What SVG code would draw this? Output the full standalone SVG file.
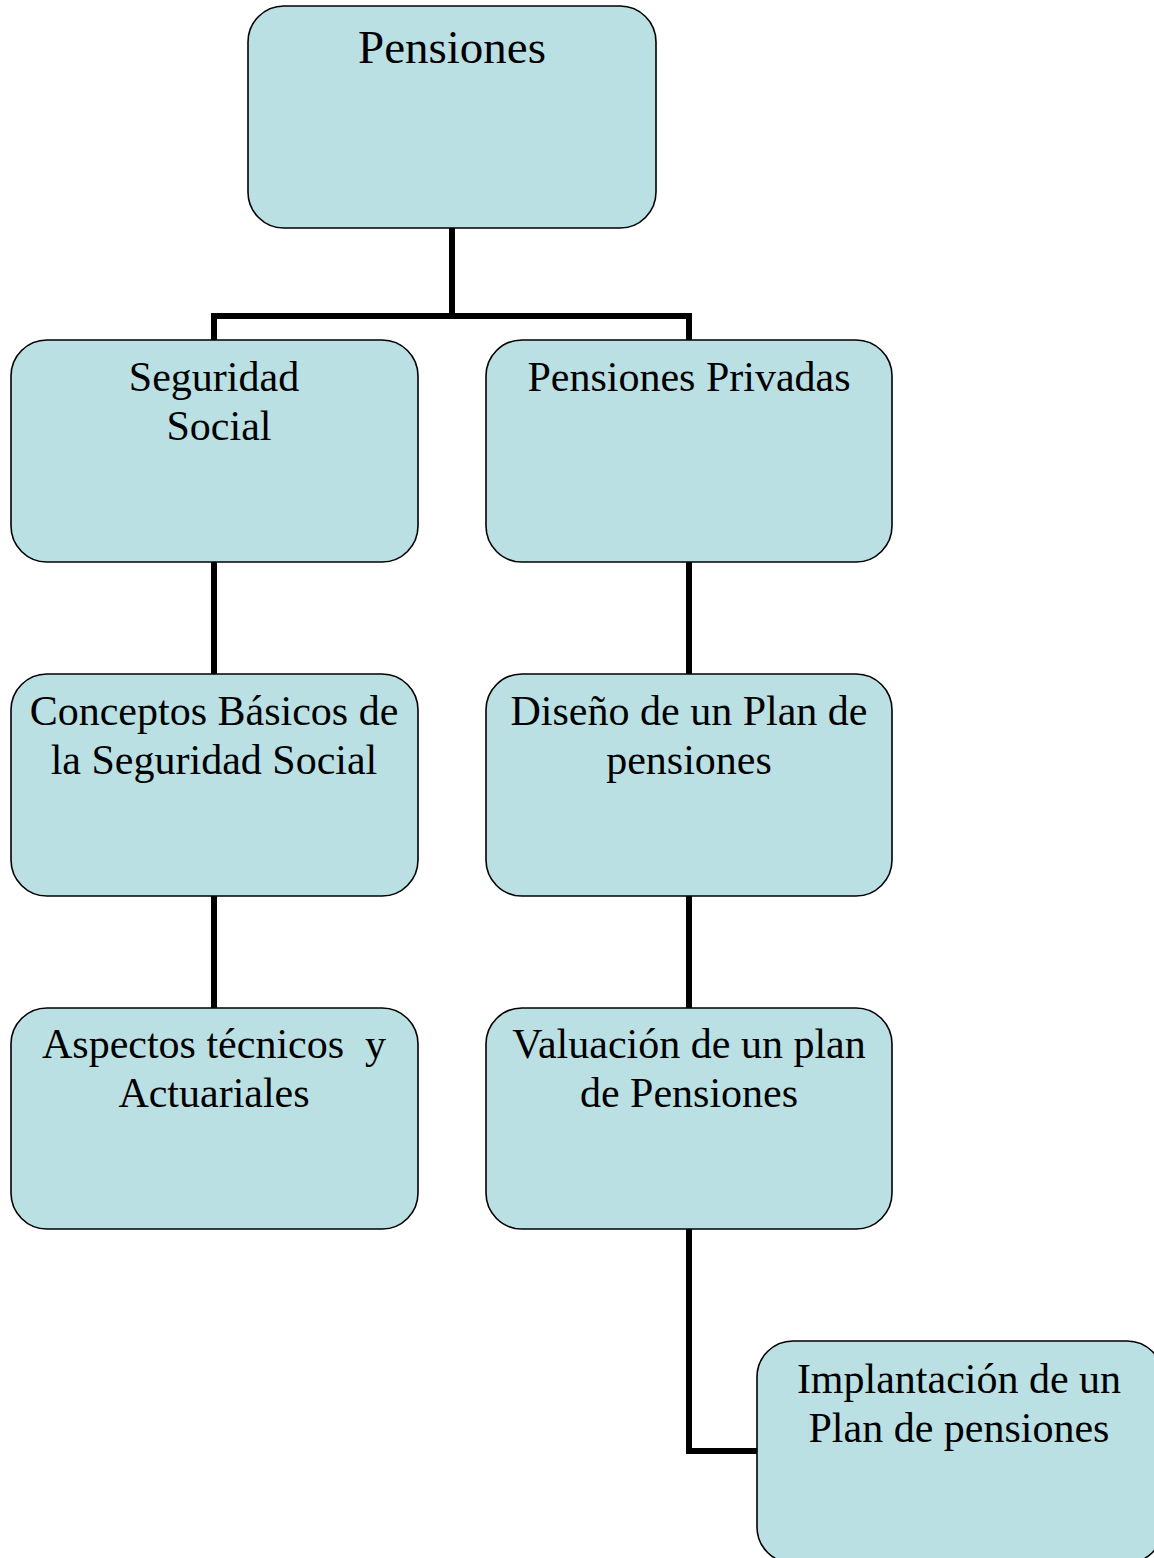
<svg xmlns="http://www.w3.org/2000/svg" width="1154" height="1558" viewBox="0 0 1154 1558">
<style>
.box{fill:#BAE0E3;stroke:#000;stroke-width:1.6}
.t{font-family:"Liberation Serif","Times New Roman",serif;font-size:42px;fill:#000;text-anchor:middle;white-space:pre}
.big{font-size:47px}
.c{fill:none;stroke:#000;stroke-width:6;stroke-linecap:square;stroke-linejoin:miter}
</style>
<rect width="1154" height="1558" fill="#fff"/>
<g id="connectors">
<path class="c" d="M452 229 V316 M214 338 V316 H689 V338"/>
<path class="c" d="M214 563 V672"/>
<path class="c" d="M689 563 V672"/>
<path class="c" d="M214 897 V1006"/>
<path class="c" d="M689 897 V1006"/>
<path class="c" d="M689 1230 V1451 H755"/>
</g>
<g id="pensiones">
<rect class="box" x="248" y="6" width="408" height="222" rx="36"/>
<text class="t big" x="452" y="63">Pensiones</text>
</g>
<g id="seguridad-social">
<rect class="box" x="11" y="340" width="407" height="222" rx="36"/>
<text class="t" x="214" y="391">Seguridad</text>
<text class="t" x="219" y="440">Social</text>
</g>
<g id="pensiones-privadas">
<rect class="box" x="486" y="340" width="406" height="222" rx="36"/>
<text class="t" x="689" y="391">Pensiones Privadas</text>
</g>
<g id="conceptos-basicos">
<rect class="box" x="11" y="674" width="407" height="222" rx="36"/>
<text class="t" x="214" y="725">Conceptos Básicos de</text>
<text class="t" x="214" y="774">la Seguridad Social</text>
</g>
<g id="diseno-plan">
<rect class="box" x="486" y="674" width="406" height="222" rx="36"/>
<text class="t" x="689" y="725">Diseño de un Plan de</text>
<text class="t" x="689" y="774">pensiones</text>
</g>
<g id="aspectos-tecnicos">
<rect class="box" x="11" y="1008" width="407" height="221" rx="36"/>
<text class="t" x="214" y="1058">Aspectos técnicos  y</text>
<text class="t" x="214" y="1107">Actuariales</text>
</g>
<g id="valuacion-plan">
<rect class="box" x="486" y="1008" width="406" height="221" rx="36"/>
<text class="t" x="689" y="1058">Valuación de un plan</text>
<text class="t" x="689" y="1107">de Pensiones</text>
</g>
<g id="implantacion-plan">
<rect class="box" x="757" y="1341" width="406" height="222" rx="36"/>
<text class="t" x="959" y="1393">Implantación de un</text>
<text class="t" x="959" y="1442">Plan de pensiones</text>
</g>
</svg>
